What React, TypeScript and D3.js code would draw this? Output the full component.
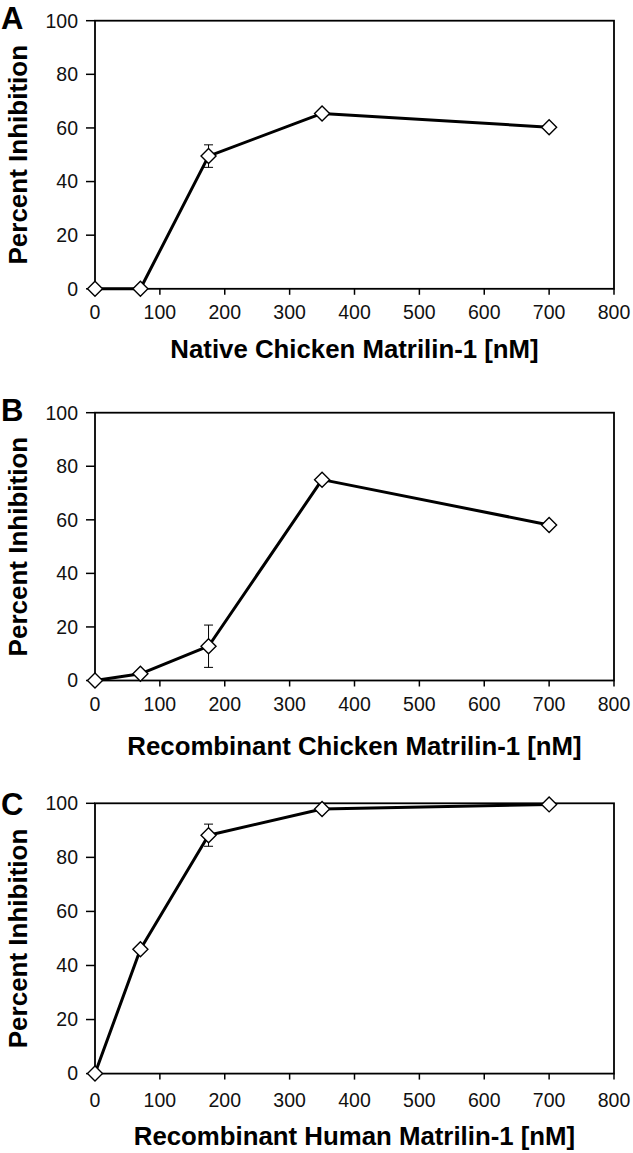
import React from "react";
import * as d3 from "d3";

const concentrations = [0, 70, 175, 350, 700];
const nativeChicken = [0, 0, 49.5, 65.4, 60.3];
const nativeChickenErr = [0, 0, 4.2, 0, 0];
const recombChicken = [0, 2.5, 12.8, 75.0, 58.1];
const recombChickenErr = [0, 0, 7.9, 1.0, 0];
const recombHuman = [0, 46.0, 88.2, 97.9, 99.6];
const recombHumanErr = [0, 0, 4.1, 0, 0];

const xTicks = [0, 100, 200, 300, 400, 500, 600, 700, 800];
const yTicks = [0, 20, 40, 60, 80, 100];

const panelLetters = ["A", "B", "C"];
const xTitles = [
  "Native Chicken Matrilin-1 [nM]",
  "Recombinant Chicken Matrilin-1 [nM]",
  "Recombinant Human Matrilin-1 [nM]",
];
const yTitle = "Percent Inhibition";

const FONT = "'Liberation Sans', Arial, Helvetica, sans-serif";

type PanelProps = {
  letter: string;
  values: number[];
  errs: number[];
  xTitle: string;
  top: number;
  bottom: number;
  letterY: number;
  tickLabelDy: number;
  titleDy: number;
};

function Panel({ letter, values, errs, xTitle, top, bottom, letterY, tickLabelDy, titleDy }: PanelProps) {
  const left = 95;
  const right = 614;
  const x = d3.scaleLinear().domain([0, 800]).range([left, right]);
  const y = d3.scaleLinear().domain([0, 100]).range([bottom, top]);
  const pts = concentrations.map((c, i) => ({ c, v: values[i], e: errs[i] }));
  const line = d3
    .line<{ c: number; v: number }>()
    .x((d) => x(d.c))
    .y((d) => y(d.v));
  const r = 7.5;
  const cx = (left + right) / 2;
  const cy = (top + bottom) / 2;
  return (
    <g>
      <text x={1} y={letterY} fontFamily={FONT} fontWeight="bold" fontSize={31} fill="#000">
        {letter}
      </text>
      <rect x={left} y={top} width={right - left} height={bottom - top} fill="none" stroke="#000" strokeWidth={1.8} />
      {yTicks.map((t) => (
        <g key={"y" + t}>
          <line x1={left - 9} x2={left} y1={y(t)} y2={y(t)} stroke="#000" strokeWidth={1.5} />
          <text x={78} y={y(t)} dy="0.35em" textAnchor="end" fontFamily={FONT} fontSize={19.5} fill="#111">
            {t}
          </text>
        </g>
      ))}
      {xTicks.map((t) => (
        <g key={"x" + t}>
          <line x1={x(t)} x2={x(t)} y1={bottom} y2={bottom + 6} stroke="#000" strokeWidth={1.5} />
          <text x={x(t)} y={bottom + tickLabelDy} textAnchor="middle" fontFamily={FONT} fontSize={19.5} fill="#111">
            {t}
          </text>
        </g>
      ))}
      <text x={cx} y={bottom + titleDy} textAnchor="middle" fontFamily={FONT} fontWeight="bold" fontSize={25.8} fill="#000">
        {xTitle}
      </text>
      <text
        transform={`translate(27,${cy}) rotate(-90)`}
        textAnchor="middle"
        fontFamily={FONT}
        fontWeight="bold"
        fontSize={26}
        fill="#000"
      >
        {yTitle}
      </text>
      {pts
        .filter((p) => p.e > 0)
        .map((p, i) => (
          <g key={"e" + i} stroke="#000" strokeWidth={1}>
            <line x1={x(p.c)} x2={x(p.c)} y1={y(p.v + p.e)} y2={y(p.v - p.e)} />
            <line x1={x(p.c) - 4.5} x2={x(p.c) + 4.5} y1={y(p.v + p.e)} y2={y(p.v + p.e)} />
            <line x1={x(p.c) - 4.5} x2={x(p.c) + 4.5} y1={y(p.v - p.e)} y2={y(p.v - p.e)} />
          </g>
        ))}
      <path d={line(pts) || ""} fill="none" stroke="#000" strokeWidth={3} strokeLinejoin="round" />
      {pts.map((p, i) => (
        <path
          key={"m" + i}
          d={`M${x(p.c)},${y(p.v) - r}L${x(p.c) + r},${y(p.v)}L${x(p.c)},${y(p.v) + r}L${x(p.c) - r},${y(p.v)}Z`}
          fill="#fff"
          stroke="#000"
          strokeWidth={1.4}
        />
      ))}
    </g>
  );
}

export default function App() {
  const series = [nativeChicken, recombChicken, recombHuman];
  const errs = [nativeChickenErr, recombChickenErr, recombHumanErr];
  const tops = [20.7, 412.7, 803.3];
  const bottoms = [288.8, 680.5, 1073.6];
  const letterYs = [28.5, 420.5, 815];
  const tickDys = [30, 30, 33];
  const titleDys = [69, 74, 71];
  return (
    <svg
      width={633}
      height={1153}
      style={{ position: "absolute", left: 0, top: 0, display: "block", background: "#fff" }}
    >
      <rect x={0} y={0} width={633} height={1153} fill="#fff" />
      {panelLetters.map((L, i) => (
        <Panel
          key={L}
          letter={L}
          values={series[i]}
          errs={errs[i]}
          xTitle={xTitles[i]}
          top={tops[i]}
          bottom={bottoms[i]}
          letterY={letterYs[i]}
          tickLabelDy={tickDys[i]}
          titleDy={titleDys[i]}
        />
      ))}
    </svg>
  );
}
